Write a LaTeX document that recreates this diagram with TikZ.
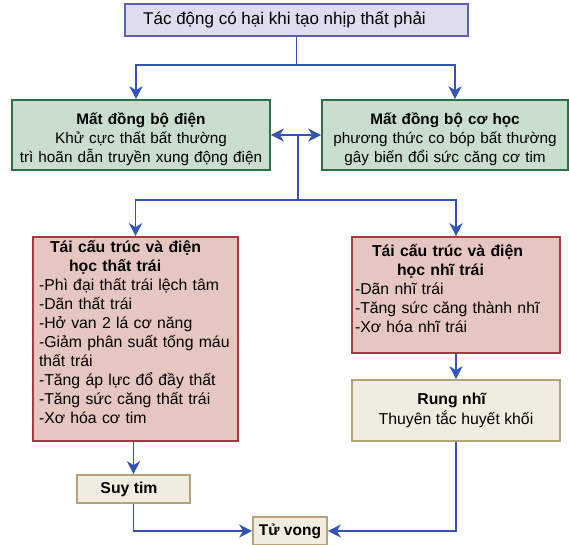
\documentclass[tikz,border=0pt]{standalone}
\usepackage{fontspec}
\setmainfont{Liberation Sans}
\usetikzlibrary{arrows.meta}

\definecolor{linkblue}{RGB}{53,83,176}
\definecolor{topfill}{RGB}{221,221,240}
\definecolor{topline}{RGB}{95,95,175}
\definecolor{greenfill}{RGB}{201,222,206}
\definecolor{greenline}{RGB}{42,112,72}
\definecolor{redfill}{RGB}{230,198,192}
\definecolor{redline}{RGB}{168,56,66}
\definecolor{beigefill}{RGB}{240,237,224}
\definecolor{beigeline}{RGB}{182,162,122}

\begin{document}
\begin{tikzpicture}[x=1pt, y=-1pt,
  box/.style = {draw, line width=1.6pt, inner xsep=4pt, inner ysep=2pt},
  topbox/.style = {box, draw=topline, fill=topfill, font=\fontsize{17}{19}\selectfont},
  greenbox/.style = {box, draw=greenline, fill=greenfill, align=center, text depth=33pt, font=\fontsize{15.3}{19}\selectfont},
  redbox/.style = {box, draw=redline, fill=redfill, align=left, font=\fontsize{15.8}{19}\selectfont},
  beigebox/.style = {box, draw=beigeline, fill=beigefill, align=center, font=\fontsize{15.8}{20}\selectfont},
  link/.style = {draw=linkblue, line width=1.7pt},
  arr/.style = {link, -{Stealth[length=13pt, width=13pt, inset=4pt]}},
  dblarr/.style = {link, {Stealth[length=13pt, width=13pt, inset=4pt]}-{Stealth[length=13pt, width=13pt, inset=4pt]}}]
\useasboundingbox (0,0) rectangle (569,544);

% boxes
\node[topbox, minimum width=343pt, minimum height=32pt] (top) at (296.5,20)
  {Tác động có hại khi tạo nhịp thất phải\hspace*{24pt}};
\node[greenbox, text width=250pt, minimum height=70pt] (elec) at (141,135)
  {\textbf{Mất đồng bộ điện}\\ Khử cực thất bất thường\\ trì hoãn dẫn truyền xung động điện};
\node[greenbox, text width=238pt, minimum height=70pt] (mech) at (445,135)
  {\textbf{Mất đồng bộ cơ học}\\ phương thức co bóp bất thường\\ gây biến đổi sức căng cơ tim};
\node[redbox, inner xsep=6pt, text width=193pt, text depth=185pt, minimum height=204pt] (lv) at (135.5,339)
  {\hspace*{11pt}\textbf{Tái cấu trúc và điện}\\ \hspace*{30pt}\textbf{học thất trái}\\
   -Phì đại thất trái lệch tâm\\ -Dãn thất trái\\ -Hở van 2 lá cơ năng\\
   -Giảm phân suất tống máu\\ thất trái\\ -Tăng áp lực đổ đầy thất\\
   -Tăng sức căng thất trái\\ -Xơ hóa cơ tim};
\node[redbox, inner xsep=3pt, text width=202pt, text depth=89pt, minimum height=116pt] (la) at (456,295)
  {\hspace*{17pt}\textbf{Tái cấu trúc và điện}\\ \hspace*{42pt}\textbf{học nhĩ trái}\\
   -Dãn nhĩ trái\\ -Tăng sức căng thành nhĩ\\ -Xơ hóa nhĩ trái};
\node[beigebox, minimum width=208pt, minimum height=61pt] (af) at (456,410.5)
  {\textbf{Rung nhĩ}\hspace*{8pt}\\ Thuyên tắc huyết khối};
\node[beigebox, minimum width=113pt, minimum height=28pt] (hf) at (133.5,489)
  {\textbf{Suy tim}\hspace*{9pt}};
\node[beigebox, minimum width=74pt, minimum height=28pt, font=\fontsize{15.5}{19}\selectfont] (death) at (290,531)
  {\textbf{Tử vong}};

% connectors
\coordinate (split1) at (296.5,65);
\coordinate (hub) at (298,135);
\coordinate (split2) at (298,200);
\draw[link] (top) -- (split1);
\draw[arr] (split1) -| ([xshift=-5pt]elec.north);
\draw[arr] (split1) -| ([xshift=10pt]mech.north);
\draw[dblarr] (elec) -- (mech);
\draw[link] (hub) -- (split2);
\draw[arr] (split2) -| (lv.north);
\draw[arr] (split2) -| (la.north);
\draw[arr] (la) -- (af);
\draw[arr] (lv) -- (lv.south -| hf.north) -- (hf.north);
\draw[arr] (hf) |- (death);
\draw[arr] (af) |- (death);
\end{tikzpicture}
\end{document}
